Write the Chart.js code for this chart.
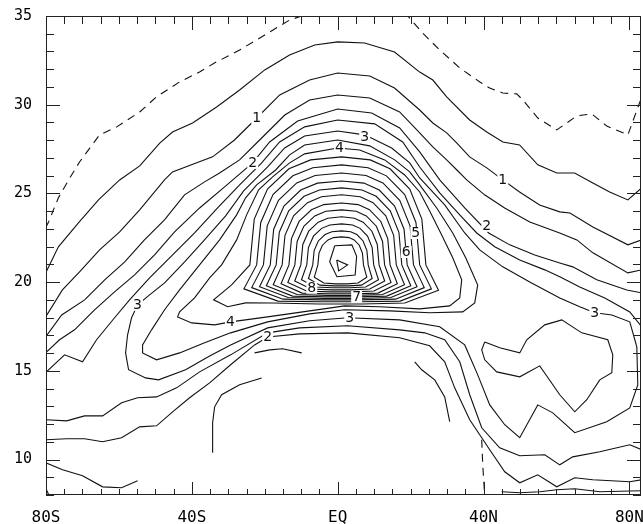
<!DOCTYPE html>
<html><head><meta charset="utf-8">
<script src="https://cdn.jsdelivr.net/npm/chart.js@4.4.1/dist/chart.umd.min.js"></script>
<style>html,body{margin:0;padding:0;background:#fff;}canvas{display:block;}</style>
</head><body>
<canvas id="c" width="643" height="524"></canvas>
<script>
// ---- axis / tick data ----
const xMajorTicks = [-80, -40, 0, 40, 80];
const xMajorLabels = ['80S', '40S', 'EQ', '40N', '80N'];
const yMajorTicks = [10, 15, 20, 25, 30, 35];

// ---- contour lines: [latitude, height km] ----
const c00 = [[-80.1,23.06],[-79.3,23.39],[-76.6,24.75],[-73.8,25.76],[-70.8,26.77],[-65.3,28.30],[-60.6,28.75],[-54.3,29.59],[-49.7,30.44],[-43.4,31.28],[-37.9,31.84],[-33.8,32.35],[-26.9,33.08],[-20.0,33.93],[-13.2,34.77],[-4.9,35.34],[6.0,35.6],[18.4,35.2],[23.3,34.04],[28.0,33.08],[33.5,32.07],[39.0,31.28],[41.7,30.94],[45.3,30.66],[49.1,30.61],[50.8,30.27],[54.9,29.25],[60.1,28.58],[65.6,29.37],[69.7,29.48],[73.8,28.80],[79.6,28.30],[83.1,30.27]];
const c05 = [[-80.1,20.52],[-76.6,21.99],[-71.1,23.34],[-65.6,24.63],[-59.8,25.76],[-54.3,26.55],[-48.8,27.84],[-45.3,28.46],[-39.8,28.97],[-33.2,29.87],[-26.9,30.83],[-20.0,31.96],[-13.2,32.80],[-6.3,33.37],[0,33.54],[7.4,33.48],[15.6,32.97],[22.5,31.84],[26.1,31.39],[29.9,30.44],[36.2,29.14],[40.9,28.46],[45.3,27.90],[49.9,27.73],[54.9,26.61],[60.1,26.15],[65.0,26.15],[70.0,25.59],[74.6,25.08],[79.6,24.63],[83.4,25.31]];
const c10 = [[-80.1,18.04],[-75.5,19.56],[-70.8,20.58],[-65.3,21.82],[-59.8,22.83],[-54.3,24.07],[-47.5,25.76],[-45.3,26.21],[-40.1,26.61],[-34.3,27.06],[-28.3,28.01],[-22.2,29.25],[-15.9,30.55],[-7.7,31.39],[0,31.79],[8.8,31.62],[15.6,30.94],[22.5,29.70],[26.1,28.97],[29.9,28.41],[32.7,27.84],[36.2,27.06],[40.9,26.44],[45.3,25.76],[49.9,25.08],[55.4,24.35],[60.9,23.96],[63.7,23.90],[70.0,23.11],[79.6,22.10],[83.4,22.38]];
const c15 = [[-80.1,16.91],[-75.7,18.15],[-69.4,19.00],[-63.9,20.13],[-58.4,21.14],[-53.0,22.38],[-47.5,23.51],[-42.0,24.92],[-36.5,25.65],[-32.4,26.15],[-26.9,26.89],[-21.4,28.01],[-14.5,29.42],[-7.7,30.27],[0,30.55],[8.8,30.38],[17.0,29.59],[22.5,28.41],[26.1,27.62],[29.9,26.89],[32.7,26.32],[35.4,25.76],[40.3,24.92],[45.8,24.18],[52.7,23.39],[60.9,22.77],[65.6,22.38],[70.0,21.65],[79.6,20.52],[83.4,20.69]];
const c20 = [[-80.12,16.01],[-76.29,16.75],[-72.17,17.31],[-66.68,18.44],[-61.19,19.45],[-55.70,20.41],[-50.22,21.53],[-44.73,22.83],[-37.87,24.18],[-31.01,25.37],[-23.32,26.72],[-18.66,27.90],[-10.98,29.08],[0,29.76],[9.33,29.53],[17.01,28.69],[22.50,27.34],[27.99,25.76],[34.85,24.18],[41.43,22.77],[47.20,22.10],[54.06,21.53],[60.92,21.08],[64.48,20.86],[71.07,20.13],[79.30,19.56],[83.42,19.39]];
const c25 = [[-80.12,14.89],[-74.91,15.90],[-69.97,15.51],[-66.13,16.75],[-61.19,17.99],[-57.08,19.00],[-51.59,20.24],[-45.55,21.48],[-39.24,22.77],[-32.93,24.18],[-26.89,25.48],[-20.85,26.72],[-15.92,27.90],[-9.06,28.75],[0,29.14],[10.15,28.92],[17.84,27.90],[22.50,26.49],[27.99,25.03],[33.48,23.79],[38.14,22.77],[43.08,21.99],[49.94,21.25],[56.80,20.69],[60.92,20.30],[66.40,19.73],[73.26,19.11],[80.12,18.32],[83.42,17.48]];
const c30 = [[0,28.52],[-9.06,28.24],[-14.54,27.56],[-19.21,26.49],[-25.79,25.14],[-30.73,23.73],[-36.77,22.32],[-41.98,21.14],[-47.47,19.96],[-51.59,19.28],[-54.88,18.72],[-56.53,17.99],[-57.62,17.03],[-58.17,16.01],[-57.35,15.06],[-52.68,14.60],[-49.12,14.49],[-41.71,15.06],[-35.12,15.84],[-29.36,16.46],[-19.21,17.42],[-7.68,17.82],[2.74,17.99],[17.01,17.87],[27.99,17.48],[34.85,16.46],[38.42,14.77],[41.71,13.08],[45.82,11.96],[49.94,11.23],[54.88,13.08],[59.00,12.63],[65.03,11.51],[73.81,12.13],[80.12,12.91],[82.32,14.21],[82.05,16.35],[80.12,17.76],[75.19,18.15],[70.52,18.27],[66.40,18.61],[60.92,19.11],[52.68,20.01],[45.28,20.86],[38.96,21.82],[34.85,22.77],[29.36,24.35],[22.50,25.87],[19.76,26.72],[14.82,27.56],[7.41,28.30],[0,28.52]];
const c35 = [[0,28.01],[8.78,27.68],[15.64,26.89],[19.76,26.21],[22.50,25.48],[27.17,24.18],[31.56,22.77],[35.12,21.37],[38.42,19.84],[37.59,18.83],[34.30,18.32],[25.24,18.27],[14.27,18.38],[1.92,18.44],[-7.68,18.21],[-19.21,17.76],[-29.36,17.14],[-36.50,16.58],[-43.36,16.01],[-49.67,15.62],[-53.51,16.01],[-53.51,16.46],[-51.04,17.31],[-47.47,18.44],[-43.36,19.56],[-37.87,20.97],[-32.38,22.38],[-27.71,23.79],[-25.24,24.75],[-22.23,25.48],[-17.01,26.32],[-13.17,27.17],[-9.06,27.73],[0,28.01]];
const c35b = [[40.34,16.63],[44.45,16.30],[49.94,16.01],[51.86,16.75],[56.80,17.59],[61.47,17.87],[66.95,17.14],[74.09,16.75],[75.46,15.90],[75.19,14.89],[71.89,14.49],[68.33,13.37],[65.03,12.69],[60.92,13.65],[55.43,15.28],[49.94,14.66],[43.63,14.94],[40.34,15.62],[39.51,16.18],[40.34,16.63]];
const c40 = [[0,27.56],[6.04,27.45],[12.90,26.89],[18.38,26.04],[22.50,25.08],[25.24,24.01],[28.26,22.77],[31.56,21.37],[34.03,20.13],[33.48,19.11],[30.73,18.66],[22.50,18.49],[11.52,18.61],[1.92,18.66],[-7.68,18.38],[-19.21,18.04],[-29.36,17.76],[-33.75,17.59],[-40.06,17.70],[-43.90,18.04],[-43.36,18.32],[-39.24,19.11],[-35.12,20.24],[-31.83,20.97],[-27.71,22.38],[-24.97,23.79],[-21.68,25.20],[-17.84,25.93],[-13.17,26.72],[-9.06,27.23],[0,27.56]];
const c45 = [[6.87,18.77],[18.42,18.82],[27.66,19.54],[24.20,20.97],[23.09,23.55],[19.77,25.24],[14.36,26.39],[8.93,26.89],[1.10,27.06],[-7.44,26.89],[-13.36,26.39],[-19.25,25.24],[-22.88,23.55],[-24.09,20.97],[-29.09,19.84],[-34.03,19.00],[-30.18,18.61],[-25.24,18.83],[-17.79,18.82],[-5.20,18.77],[6.87,18.77]];
const c50 = [[6.45,18.89],[17.15,18.93],[25.71,19.62],[22.50,20.97],[21.47,23.36],[18.39,24.93],[13.38,25.99],[8.35,26.45],[1.10,26.61],[-6.81,26.45],[-12.29,25.99],[-17.74,24.93],[-21.10,23.36],[-22.22,20.97],[-25.72,19.62],[-16.39,18.93],[-4.73,18.89],[6.45,18.89]];
const c55 = [[6.02,19.00],[15.87,19.04],[23.75,19.69],[20.80,20.97],[19.85,23.17],[17.02,24.61],[12.41,25.59],[7.78,26.01],[1.10,26.15],[-6.18,26.01],[-11.22,25.59],[-16.24,24.61],[-19.33,23.17],[-20.36,20.97],[-23.58,19.69],[-15.00,19.04],[-4.27,19.00],[6.02,19.00]];
const c60 = [[5.59,19.08],[14.58,19.13],[21.77,19.74],[19.07,20.97],[18.21,22.98],[15.62,24.29],[11.41,25.19],[7.19,25.58],[1.10,25.70],[-5.54,25.58],[-10.14,25.19],[-14.73,24.29],[-17.55,22.98],[-18.49,20.97],[-21.43,19.74],[-13.59,19.13],[-3.80,19.08],[5.59,19.08]];
const c65 = [[5.22,19.17],[13.47,19.21],[20.06,19.80],[17.59,20.97],[16.80,22.81],[14.42,24.02],[10.57,24.84],[6.69,25.19],[1.10,25.31],[-4.99,25.19],[-9.21,24.84],[-13.42,24.02],[-16.01,22.81],[-16.87,20.97],[-19.57,19.80],[-12.38,19.21],[-3.39,19.17],[5.22,19.17]];
const c70 = [[4.84,19.25],[12.33,19.30],[18.33,19.85],[16.08,20.97],[15.36,22.64],[13.20,23.74],[9.70,24.48],[6.18,24.81],[1.10,24.92],[-4.44,24.81],[-8.27,24.48],[-12.09,23.74],[-14.45,22.64],[-15.23,20.97],[-17.68,19.85],[-11.15,19.30],[-2.98,19.25],[4.84,19.25]];
const c75 = [[4.42,19.34],[11.06,19.38],[16.37,19.91],[14.38,20.97],[13.74,22.45],[11.83,23.42],[8.72,24.08],[5.60,24.37],[1.10,24.46],[-3.80,24.37],[-7.20,24.08],[-10.58,23.42],[-12.67,22.45],[-13.36,20.97],[-15.53,19.91],[-9.75,19.38],[-2.52,19.34],[4.42,19.34]];
const c80 = [[4.04,19.45],[9.93,19.50],[14.64,19.98],[12.87,20.97],[12.31,22.29],[10.61,23.15],[7.86,23.73],[5.09,23.99],[1.10,24.07],[-3.25,23.99],[-6.27,23.73],[-9.28,23.15],[-11.12,22.29],[-11.74,20.97],[-13.67,19.98],[-8.53,19.50],[-2.11,19.45],[4.04,19.45]];
const c85 = [[3.67,19.56],[8.80,19.61],[12.90,20.06],[11.36,20.97],[10.87,22.12],[9.39,22.87],[6.99,23.38],[4.58,23.60],[1.10,23.68],[-2.70,23.60],[-5.33,23.38],[-7.95,22.87],[-9.56,22.12],[-10.10,20.97],[-11.78,20.06],[-7.30,19.61],[-1.70,19.56],[3.67,19.56]];
const c90 = [[3.30,19.68],[7.69,19.72],[11.20,20.13],[9.88,20.97],[9.46,21.95],[8.19,22.59],[6.14,23.03],[4.08,23.22],[1.10,23.28],[-2.15,23.22],[-4.40,23.03],[-6.64,22.59],[-8.02,21.95],[-8.48,20.97],[-9.92,20.13],[-6.09,19.72],[-1.30,19.68],[3.30,19.68]];
const c95 = [[2.92,19.79],[6.55,19.83],[9.46,20.20],[8.37,20.97],[8.02,21.78],[6.97,22.32],[5.27,22.68],[3.56,22.84],[1.10,22.89],[-1.59,22.84],[-3.45,22.68],[-5.31,22.32],[-6.45,21.78],[-6.83,20.97],[-8.02,20.20],[-4.85,19.83],[-0.88,19.79],[2.92,19.79]];
const c100 = [[2.60,19.90],[5.59,19.95],[7.98,20.28],[7.08,20.97],[6.79,21.64],[5.93,22.08],[4.53,22.38],[3.13,22.51],[1.10,22.55],[-1.11,22.51],[-2.65,22.38],[-4.18,22.08],[-5.12,21.64],[-5.43,20.97],[-6.41,20.28],[-3.80,19.95],[-0.53,19.90],[2.60,19.90]];
const c105 = [[-0.8,22.05],[3.9,22.1],[5.2,21.45],[4.8,20.4],[-0.2,20.3],[-2.2,21.15],[-0.8,22.05]];
const c110 = [[-0.27,21.25],[2.74,20.97],[0.27,20.63],[-0.27,21.25]];
const c20low = [[-80.12,11.11],[-74.36,11.17],[-69.42,11.17],[-64.48,11.00],[-59.27,11.23],[-54.33,11.84],[-49.67,11.90],[-45.28,12.69],[-40.61,13.48],[-35.12,14.32],[-29.36,15.34],[-22.78,16.46],[-19.21,16.91],[-10.43,17.08],[2.74,17.14],[17.01,16.86],[25.24,16.41],[29.36,15.51],[32.10,14.04],[36.22,12.24],[41.71,10.55],[45.82,9.31],[49.94,8.69],[54.88,9.14],[60.10,8.46],[65.03,8.97],[69.97,8.86],[80.12,8.75],[83.42,8.86]];
const c25low = [[-80.12,12.24],[-74.36,12.18],[-69.42,12.46],[-64.48,12.46],[-59.27,13.20],[-54.88,13.48],[-49.67,13.53],[-44.18,14.04],[-37.87,14.94],[-29.36,15.90],[-19.21,17.14],[-10.43,17.42],[2.74,17.54],[17.01,17.31],[23.87,17.14],[29.36,16.75],[33.48,15.51],[36.22,13.65],[39.51,11.79],[44.45,10.66],[49.94,10.21],[56.80,10.27],[60.92,9.70],[64.48,10.15],[71.89,10.44],[80.12,10.83],[83.42,10.55]];
const c15low = [[-80.12,9.82],[-75.46,9.42],[-69.97,9.08],[-64.48,8.46],[-59.27,8.41],[-54.88,8.80]];
const cShort = [[-22.78,16.01],[-18.66,16.18],[-15.09,16.24],[-9.88,16.01]];
const cArcL = [[-34.30,10.38],[-34.30,12.07],[-33.75,12.97],[-31.83,13.65],[-26.89,14.21],[-20.85,14.60]];
const cArcR = [[21.13,15.51],[23.05,15.06],[26.62,14.49],[29.36,13.53],[30.73,12.13]];
const cDashLow = [[39.51,11.11],[39.79,9.70],[40.34,7.9]];
const cBottom = [[45.0,8.18],[49.94,8.13],[55.43,8.18],[60.10,8.30],[65.03,8.35],[71.89,8.18],[83.42,8.24]];
const cCorner = [[-80.12,8.41],[-79.0,7.9]];

// ---- contour value labels ----
const labelText = ['1','1','2','2','2','3','3','3','3','4','4','5','6','7','8'];
const labelLat  = [-22.2, 45.3, -23.3, 40.9, -19.2, 7.4, -54.9, 3.3, 70.5, 0.5, -29.4, 21.4, 18.8, 5.2, -7.1];
const labelHgt  = [29.25, 25.76, 26.72, 23.17, 16.91, 28.18, 18.72, 17.99, 18.27, 27.56, 17.76, 22.77, 21.70, 19.17, 19.68];

const solid = [c05,c10,c15,c20,c25,c30,c35,c35b,c40,c45,c50,c55,c60,c65,c70,c75,c80,c85,c90,c95,c100,c105,c110,c20low,c25low,c15low,cShort,cArcL,cArcR,cBottom,cCorner];
const dashed = [c00, cDashLow];

const ds = [];
solid.forEach(a => ds.push({data: a.map(p => ({x:p[0], y:p[1]})), showLine:true, borderColor:'#111', borderWidth:1.1, pointRadius:0, fill:false}));
dashed.forEach(a => ds.push({data: a.map(p => ({x:p[0], y:p[1]})), showLine:true, borderColor:'#111', borderWidth:1.1, borderDash:[8,6], pointRadius:0, fill:false}));

const framePlugin = {
  id: 'frame',
  afterDatasetsDraw(chart) {
    const {ctx, chartArea: a, scales: {x, y}} = chart;
    ctx.save();
    ctx.font = '14px "DejaVu Sans"';
    ctx.textAlign = 'center'; ctx.textBaseline = 'middle';
    for (let i = 0; i < labelText.length; i++) {
      const px = x.getPixelForValue(labelLat[i]), py = y.getPixelForValue(labelHgt[i]);
      const w = ctx.measureText(labelText[i]).width + 2;
      ctx.fillStyle = '#fff'; ctx.fillRect(px - w/2, py - 6, w, 12);
      ctx.fillStyle = '#111'; ctx.fillText(labelText[i], px, py + 0.5);
    }
    ctx.strokeStyle = '#222'; ctx.lineWidth = 1;
    ctx.strokeRect(a.left + 0.5, a.top + 0.5, a.right - a.left - 1, a.bottom - a.top - 1);
    ctx.beginPath();
    for (let v = -80; v <= 80; v += 5) {
      const px = Math.round(x.getPixelForValue(v)) + 0.5;
      const major = xMajorTicks.includes(v);
      ctx.moveTo(px, a.bottom); ctx.lineTo(px, a.bottom - (major ? 13 : 6));
      ctx.moveTo(px, a.top); ctx.lineTo(px, a.top + (major ? 14 : 8));
    }
    for (let v = 8; v <= 35; v += 1) {
      const py = Math.round(y.getPixelForValue(v)) + 0.5;
      const major = yMajorTicks.includes(v);
      ctx.moveTo(a.left, py); ctx.lineTo(a.left + (major ? 14 : 8), py);
      ctx.moveTo(a.right, py); ctx.lineTo(a.right - (major ? 14 : 8), py);
    }
    ctx.stroke();
    ctx.restore();
  }
};

new Chart(document.getElementById('c'), {
  type: 'scatter',
  data: {datasets: ds},
  options: {
    responsive: false, animation: false, devicePixelRatio: 1,
    layout: {padding: {top: 16, right: 2, left: 0, bottom: 0}},
    plugins: {legend: {display: false}, tooltip: {enabled: false}},
    elements: {line: {tension: 0}},
    scales: {
      x: {type: 'linear', min: -80, max: 83.2,
        grid: {display: false, drawTicks: false}, border: {display: false},
        afterFit: s => { s.height = 29; s.paddingLeft = 0; s.paddingRight = 0; },
        ticks: {stepSize: 5, includeBounds: false, autoSkip: false, maxRotation: 0, padding: 13, color: '#000',
          font: {family: 'DejaVu Sans Mono', size: 16},
          callback: v => { const i = xMajorTicks.indexOf(v); return i >= 0 ? xMajorLabels[i] : ''; }}},
      y: {type: 'linear', min: 8, max: 35,
        grid: {display: false, drawTicks: false}, border: {display: false},
        afterFit: s => { s.width = 46; s.paddingTop = 0; s.paddingBottom = 0; },
        ticks: {stepSize: 1, autoSkip: false, padding: 14, color: '#000',
          font: {family: 'DejaVu Sans Mono', size: 15},
          callback: v => yMajorTicks.includes(v) ? String(v) : ''}}
    }
  },
  plugins: [framePlugin]
});
</script>
</body></html>
